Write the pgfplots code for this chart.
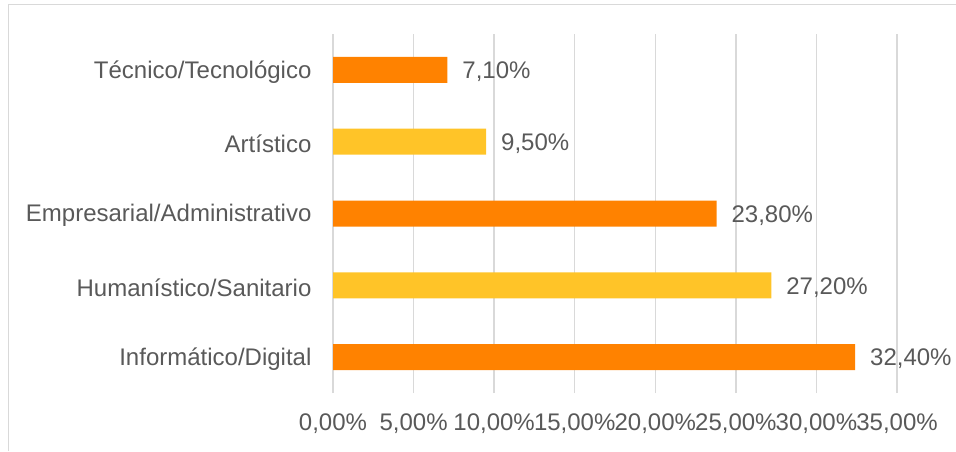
\documentclass[border=0pt]{standalone}
\usepackage{pgfplots}
\pgfplotsset{compat=1.18}
\usepackage{fontspec}
\setmainfont{Liberation Sans}
\definecolor{barorange}{RGB}{255,130,0}
\definecolor{baryellow}{RGB}{255,196,40}
\definecolor{txtgray}{RGB}{89,89,89}
\definecolor{gridgray}{RGB}{217,217,217}
\begin{document}
\begin{tikzpicture}
\path[use as bounding box] (0pt,0pt) rectangle (478pt,225.5pt);
\draw[gridgray,line width=0.8pt] (4.25pt,0pt) -- (4.25pt,223.25pt) -- (478pt,223.25pt);
\begin{axis}[
  at={(166.5pt,29pt)}, anchor=south west,
  scale only axis,
  width=282pt, height=179.5pt,
  xmin=0, xmax=35,
  ymin=-0.5, ymax=4.5,
  xbar, bar shift=0pt, bar width=13pt,
  xtick={0,5,...,35},
  xticklabels={{0,00\%},{5,00\%},{10,00\%},{15,00\%},{20,00\%},{25,00\%},{30,00\%},{35,00\%}},
  ytick={0,1,2,3,4},
  yticklabels={Informático/Digital,Humanístico/Sanitario,Empresarial/Administrativo,Artístico,Técnico/Tecnológico},
  xmajorgrids, grid style={gridgray,line width=0.75pt},
  axis line style={draw=none},
  major tick style={draw=none},
  tick label style={font=\fontsize{12}{14}\selectfont,text=txtgray},
  xticklabel style={yshift=-7pt},
  yticklabel style={xshift=-3pt,yshift=-1pt},
  /pgf/number format/assume math mode=true,
  point meta=x,
  nodes near coords={\pgfmathprintnumber[fixed,fixed zerofill,precision=2,use comma]{\pgfplotspointmeta}\%},
  nodes near coords style={font=\fontsize{12}{14}\selectfont,text=txtgray,xshift=4pt,yshift=-1pt},
]
\addplot[fill=barorange,draw=none] coordinates {(32.4,0) (23.8,2) (7.1,4)};
\addplot[fill=baryellow,draw=none] coordinates {(27.2,1) (9.5,3)};
\end{axis}
\end{tikzpicture}
\end{document}
